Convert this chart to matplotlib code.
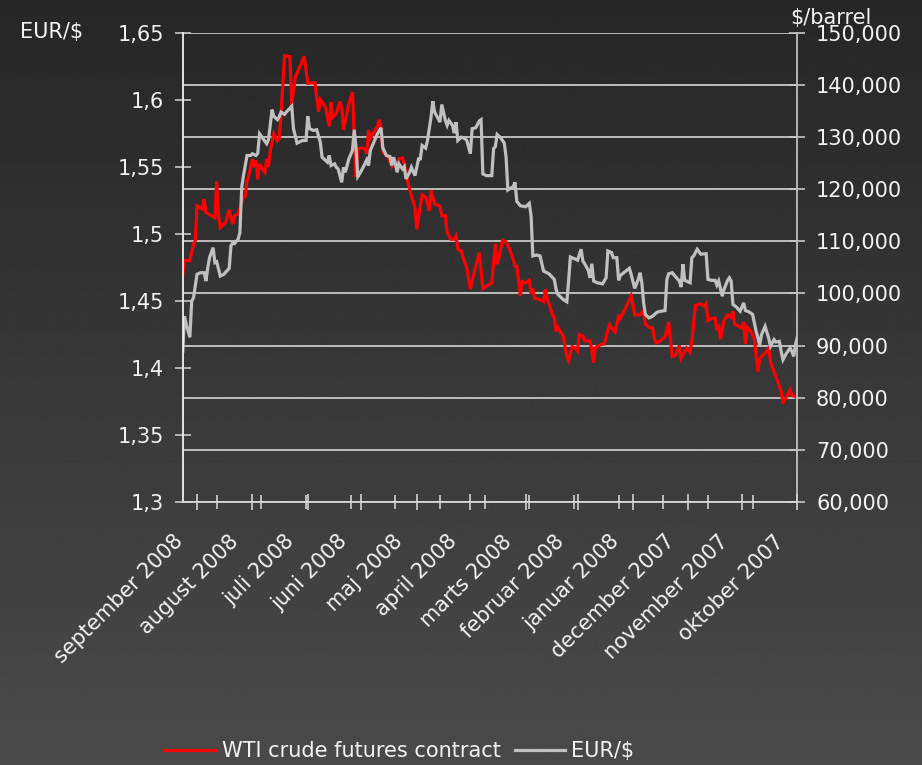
import numpy as np
import pandas as pd
import matplotlib
matplotlib.use("Agg")
import matplotlib.pyplot as plt
import matplotlib.transforms as mtransforms
from matplotlib.lines import Line2D

# days before 2008-09-01 (negative = september 2008)
wti_days = [-8, -7, -4, -2, -1, 0, 3, 4, 5, 8, 10, 11, 12, 13, 16, 18, 20, 21, 23, 26,
            27, 28, 29, 30, 31, 32, 33, 34, 35, 36, 38, 39, 40, 41, 43, 45, 46, 47, 49, 52,
            53, 55, 58, 60, 62, 66, 68, 69, 72, 74, 75, 76, 78, 80, 81, 82, 85, 87, 89, 90,
            92, 94, 95, 96, 97, 99, 101, 102, 103, 104, 107, 109, 110, 112, 113, 115, 116, 117, 118, 120,
            122, 123, 124, 126, 128, 130, 131, 133, 136, 137, 139, 140, 142, 144, 145, 146, 148, 149, 151, 153,
            154, 158, 160, 162, 165, 167, 168, 169, 171, 173, 175, 177, 178, 179, 181, 182, 184, 186, 187, 188,
            189, 192, 194, 195, 196, 199, 200, 201, 202, 203, 205, 207, 208, 210, 212, 213, 214, 216, 217, 220,
            221, 222, 223, 226, 228, 229, 231, 232, 234, 236, 237, 239, 241, 243, 244, 245, 248, 250, 251, 253,
            255, 256, 257, 259, 262, 264, 266, 268, 270, 271, 274, 276, 277, 279, 282, 284, 285, 286, 288, 290,
            291, 292, 293, 295, 297, 299, 300, 301, 303, 305, 306, 307, 308, 310, 312, 313, 314, 315, 317, 319,
            320, 321, 323, 325, 327, 328, 330, 332, 333, 336]
wti_price = [103.6, 106.3, 106.3, 109.4, 110.1, 116.8, 116.2, 118.1, 115.5, 114.9, 114.5, 121.5, 114.9, 112.6, 113.6, 116.0, 113.3, 114.9, 115.2, 118.4,
             118.7, 121.6, 122.6, 124.2, 125.8, 124.2, 125.5, 121.9, 124.8, 124.2, 123.2, 125.8, 124.3, 127.4, 130.6, 129.3, 129.7, 134.1, 145.6, 145.4,
             136.1, 141.5, 143.8, 145.5, 140.3, 140.4, 134.8, 137.2, 135.7, 132.0, 136.7, 133.8, 134.5, 136.8, 135.7, 131.4, 136.4, 138.6, 122.3, 127.7,
             127.9, 127.7, 126.8, 131.3, 129.7, 130.9, 132.0, 133.3, 131.8, 127.1, 126.1, 124.5, 125.5, 124.3, 125.8, 126.0, 124.8, 123.2, 121.3, 118.7,
             116.5, 112.3, 114.5, 118.9, 118.5, 115.8, 119.7, 117.2, 116.7, 114.9, 114.9, 111.7, 110.4, 110.4, 111.0, 108.5, 108.1, 106.8, 104.9, 100.8,
             102.4, 107.8, 100.9, 101.4, 102.0, 109.5, 105.6, 106.8, 110.2, 109.9, 108.5, 106.5, 105.2, 105.2, 99.5, 102.3, 102.0, 102.5, 99.9, 100.9,
             99.1, 98.8, 98.4, 100.8, 99.1, 95.9, 95.3, 92.7, 93.5, 92.9, 91.8, 87.9, 87.1, 89.8, 89.5, 89.0, 92.1, 91.8, 90.9, 90.9,
             89.0, 86.7, 89.6, 90.2, 90.3, 91.8, 94.0, 93.4, 92.6, 95.6, 95.2, 96.6, 98.0, 99.5, 97.9, 95.9, 95.9, 96.7, 94.1, 93.5,
             93.4, 91.4, 90.5, 90.8, 91.6, 94.5, 87.9, 88.2, 90.0, 87.6, 89.5, 88.7, 90.8, 97.7, 98.0, 97.5, 98.0, 94.8, 95.2, 95.3,
             93.0, 94.0, 91.2, 94.8, 95.9, 95.4, 96.6, 94.1, 93.7, 93.4, 94.5, 90.3, 93.5, 92.7, 91.3, 87.9, 85.0, 87.6, 88.2, 89.0,
             89.5, 86.9, 85.0, 83.1, 81.2, 78.9, 80.2, 81.5, 80.5, 80.0]

eur_days = [-8, -7, -6, -4, -3, -2, 0, 2, 4, 5, 6, 7, 9, 10, 11, 13, 15, 18, 19, 20,
            21, 23, 24, 25, 26, 28, 30, 31, 33, 34, 35, 37, 39, 40, 42, 43, 45, 46, 47, 49,
            50, 53, 54, 56, 59, 61, 62, 63, 65, 67, 69, 70, 73, 74, 75, 77, 78, 79, 81, 82,
            83, 85, 87, 88, 89, 90, 91, 93, 95, 96, 97, 99, 101, 103, 104, 106, 108, 109, 110, 111,
            112, 113, 115, 116, 117, 119, 120, 122, 124, 125, 126, 128, 129, 131, 132, 133, 135, 136, 137, 139,
            140, 141, 143, 144, 145, 146, 148, 150, 151, 153, 154, 156, 158, 159, 160, 162, 165, 166, 167, 168,
            170, 172, 173, 174, 177, 178, 179, 181, 184, 186, 187, 188, 190, 192, 194, 197, 200, 201, 202, 205,
            207, 208, 209, 212, 213, 215, 216, 217, 219, 220, 221, 222, 224, 227, 229, 230, 232, 233, 235, 236,
            237, 240, 242, 243, 245, 247, 248, 249, 250, 251, 253, 255, 257, 258, 262, 263, 264, 266, 268, 270,
            271, 272, 273, 276, 277, 278, 280, 282, 285, 286, 288, 290, 291, 292, 294, 295, 297, 298, 299, 300,
            302, 304, 306, 307, 309, 311, 312, 313, 315, 316, 318, 320, 321, 323, 324, 326, 327, 328, 330, 332,
            333, 334, 335, 336]
eur_rate = [1.4123, 1.4385, 1.4323, 1.4228, 1.4498, 1.4522, 1.4698, 1.4710, 1.4710, 1.4648, 1.4747, 1.4822, 1.4897, 1.4785, 1.4792, 1.4685, 1.4698, 1.4743, 1.4910, 1.4934,
            1.4927, 1.4960, 1.5009, 1.5346, 1.5434, 1.5584, 1.5584, 1.5597, 1.5584, 1.5601, 1.5746, 1.5709, 1.5672, 1.5701, 1.5926, 1.5876, 1.5851, 1.5871, 1.5908, 1.5891,
            1.5908, 1.5951, 1.5784, 1.5676, 1.5696, 1.5696, 1.5876, 1.5784, 1.5771, 1.5776, 1.5684, 1.5571, 1.5534, 1.5584, 1.5509, 1.5522, 1.5496, 1.5484, 1.5384, 1.5496,
            1.5459, 1.5559, 1.5621, 1.5776, 1.5646, 1.5427, 1.5447, 1.5496, 1.5552, 1.5509, 1.5621, 1.5684, 1.5746, 1.5791, 1.5642, 1.5584, 1.5576, 1.5509, 1.5571, 1.5526,
            1.5459, 1.5522, 1.5484, 1.5501, 1.5409, 1.5459, 1.5496, 1.5434, 1.5559, 1.5559, 1.5659, 1.5639, 1.5696, 1.5871, 1.5988, 1.5908, 1.5859, 1.5833, 1.5964, 1.5846,
            1.5809, 1.5846, 1.5809, 1.5751, 1.5833, 1.5696, 1.5721, 1.5709, 1.5696, 1.5597, 1.5784, 1.5791, 1.5841, 1.5851, 1.5447, 1.5434, 1.5434, 1.5634, 1.5651, 1.5741,
            1.5716, 1.5676, 1.5571, 1.5327, 1.5352, 1.5384, 1.5242, 1.5209, 1.5202, 1.5227, 1.5134, 1.4835, 1.4842, 1.4835, 1.4722, 1.4702, 1.4660, 1.4585, 1.4548, 1.4510,
            1.4493, 1.4648, 1.4827, 1.4810, 1.4803, 1.4885, 1.4797, 1.4777, 1.4728, 1.4672, 1.4777, 1.4648, 1.4635, 1.4627, 1.4672, 1.4872, 1.4860, 1.4822, 1.4822, 1.4653,
            1.4690, 1.4722, 1.4743, 1.4698, 1.4593, 1.4660, 1.4710, 1.4635, 1.4485, 1.4398, 1.4373, 1.4385, 1.4410, 1.4418, 1.4428, 1.4660, 1.4702, 1.4710, 1.4678, 1.4648,
            1.4603, 1.4773, 1.4653, 1.4635, 1.4822, 1.4835, 1.4885, 1.4848, 1.4852, 1.4660, 1.4653, 1.4653, 1.4618, 1.4648, 1.4535, 1.4585, 1.4653, 1.4672, 1.4648, 1.4473,
            1.4453, 1.4423, 1.4485, 1.4428, 1.4418, 1.4398, 1.4335, 1.4273, 1.4173, 1.4248, 1.4310, 1.4223, 1.4161, 1.4211, 1.4193, 1.4198, 1.4123, 1.4061, 1.4110, 1.4148,
            1.4123, 1.4086, 1.4173, 1.4228]

month_names = ["oktober", "november", "december", "januar", "februar", "marts",
               "april", "maj", "juni", "juli", "august", "september"]

base = pd.Timestamp("2008-09-01")
wti_dates = base - pd.to_timedelta(wti_days, unit="D")
eur_dates = base - pd.to_timedelta(eur_days, unit="D")

txt = "#f2f2f2"
fs = 15

fig = plt.figure(figsize=(9.22, 7.65), dpi=100)

# background gradient
bg = fig.add_axes([0, 0, 1, 1], zorder=-10)
grad = np.linspace(0.15, 0.29, 256).reshape(-1, 1)
bg.imshow(grad, aspect="auto", cmap="gray", vmin=0, vmax=1, extent=[0, 1, 1, 0])
bg.axis("off")

ax = fig.add_axes([0.1982, 0.3438, 0.6665, 0.6135])
ax2 = ax.twinx()
ax.set_zorder(ax2.get_zorder() + 1)
ax.patch.set_visible(False)
ax2.patch.set_visible(False)

ax2.plot(wti_dates, wti_price, color="#ff0000", lw=2.3, solid_joinstyle="miter")
ax.plot(eur_dates, eur_rate, color="#c0c0c0", lw=2.3, solid_joinstyle="miter")

ax.set_xlim(base + pd.Timedelta(days=8), pd.Timestamp("2007-10-01"))
ax.set_ylim(1.3, 1.65)
ax2.set_ylim(60, 150)

ax.set_yticks(np.arange(1.30, 1.651, 0.05))
ax.set_yticklabels([("%.2f" % v).rstrip("0").replace(".", ",") for v in np.arange(1.30, 1.651, 0.05)])
ax2.set_yticks(np.arange(60, 151, 10))
ax2.set_yticklabels([("%.3f" % v).replace(".", ",") for v in np.arange(60, 151, 10)])

ax2.yaxis.grid(True, color="#c8c8c8", lw=1.3)
ax2.set_axisbelow(True)

months = pd.date_range("2007-10-01", "2008-09-01", freq="MS")
ax.set_xticks(months)
ax.set_xticklabels(["%s %d" % (month_names[(m.month - 10) % 12], m.year) for m in months])
ax.set_xticks(pd.date_range(end="2008-08-21", periods=13, freq="25D"), minor=True)

for a in (ax, ax2):
    for s in a.spines.values():
        s.set_visible(False)
ax.spines["left"].set_visible(True)
ax.spines["left"].set_color("#f0f0f0")
ax.spines["bottom"].set_visible(True)
ax.spines["bottom"].set_color("#d8d8d8")
ax2.spines["right"].set_visible(True)
ax2.spines["right"].set_color("#c0c0c0")
for s in ("left", "bottom"):
    ax.spines[s].set_linewidth(1.3)
ax2.spines["right"].set_linewidth(1.3)

ax.tick_params(axis="y", direction="inout", length=11, width=1.2, color="#c8c8c8",
               labelcolor=txt, labelsize=fs, pad=8)
ax2.tick_params(axis="y", direction="inout", length=11, width=1.2, color="#c8c8c8",
                labelcolor=txt, labelsize=fs, pad=8)
ax.tick_params(axis="x", which="major", direction="inout", length=12, width=1.2,
               color="#d0d0d0", labelcolor=txt, labelsize=fs, pad=0)
ax.tick_params(axis="x", which="minor", direction="inout", length=10, width=1.2, color="#d0d0d0")

offset = mtransforms.ScaledTranslation(-17 / 100, -28 / 100, fig.dpi_scale_trans)
for lab in ax.get_xticklabels():
    lab.set_rotation(45)
    lab.set_ha("right")
    lab.set_va("center")
    lab.set_rotation_mode("anchor")
    lab.set_transform(lab.get_transform() + offset)

fig.text(0.022, 0.958, "EUR/$", color=txt, fontsize=fs, va="center", ha="left")
fig.text(0.857, 0.977, "$/barrel", color=txt, fontsize=fs, va="center", ha="left")

handles = [Line2D([], [], color="#ff0000", lw=2.3), Line2D([], [], color="#c0c0c0", lw=2.3)]
leg = fig.legend(handles, ["WTI crude futures contract", "EUR/$"], loc="center left",
                 bbox_to_anchor=(0.168, 0.018), ncol=2, frameon=False, fontsize=fs,
                 handlelength=2.4, handletextpad=0.3, columnspacing=0.7, borderpad=0)
for t in leg.get_texts():
    t.set_color(txt)

fig.savefig("out.png", dpi=100)
